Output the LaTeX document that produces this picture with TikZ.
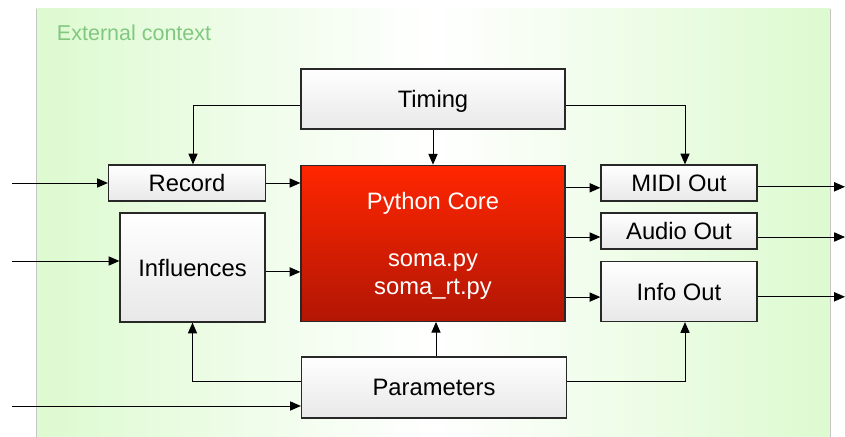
\documentclass[tikz,border=0pt]{standalone}
\usepackage{xcolor}
\usepackage{tikz}
\usepackage{fontspec}
\setmainfont{Liberation Sans}
\definecolor{contextgreen}{RGB}{221, 250, 208}
\definecolor{contexttext}{RGB}{128, 200, 128}
\definecolor{corered}{RGB}{255, 38, 0}
\definecolor{coredark}{RGB}{178, 22, 4}
\definecolor{boxline}{RGB}{40, 40, 40}
\usetikzlibrary{arrows.meta, positioning}

\begin{document}
\begin{tikzpicture}[
        every node/.style={font=\fontsize{16.9}{20}\selectfont},
        block/.style={rectangle, draw=boxline, line width=0.9pt, top color=white, bottom color=gray!18, text centered, text depth=0pt, inner sep=0pt},
        core/.style={block, top color=corered, bottom color=coredark, text=white, align=center},
        flow/.style={-{Triangle[length=2.7mm, width=2.3mm]}, line width=0.7pt},
    ]

        % External context
        \useasboundingbox (0,0) rectangle (21.125,-10.925);
        \shade[left color=contextgreen, right color=contextgreen, middle color=white] (0.9,-0.225) rectangle (20.75,-10.925);
        \draw[gray!45, line width=0.6pt] (0.9,-0.225) -- (0.9,-10.925) (20.75,-0.225) -- (20.75,-10.925);
        \node[anchor=west, text=contexttext, font=\fontsize{15.3}{18}\selectfont] (context) at (1.3,-0.825) {External context};

        % Blocks
        \node[block, minimum width=6.6cm, minimum height=1.5cm] (timing) at (10.825,-2.475) {Timing};
        \node[block, minimum width=3.925cm, minimum height=0.9cm] (record) at (4.675,-4.575) {Record};
        \node[block, minimum width=3.625cm, minimum height=2.725cm] (influences) at (4.8125,-6.6875) {Influences};
        \node[core, minimum width=6.6cm, minimum height=3.9cm] (pycore) at (10.825,-6.0825) {Python Core\\[21pt]soma.py\\soma\_rt.py};
        \node[block, minimum width=3.9cm, minimum height=0.9cm] (midi) at (16.975,-4.575) {MIDI Out};
        \node[block, minimum width=3.9cm, minimum height=0.9cm] (audio) at (16.975,-5.775) {Audio Out};
        \node[block, minimum width=3.9cm, minimum height=1.5cm] (info) at (16.975,-7.2875) {Info Out};
        \node[block, minimum width=6.625cm, minimum height=1.525cm] (params) at (10.85,-9.6875) {Parameters};

        % Free ends
        \coordinate (recIn) at (0.3,-4.575);
        \coordinate (infIn) at (0.3,-6.525);
        \coordinate (parIn) at (0.3,-10.15);
        \coordinate (midiOut) at (21.125,-4.67);
        \coordinate (audioOut) at (21.125,-5.925);
        \coordinate (infoOut) at (21.125,-7.42);

        % Inputs
        \draw[flow] (recIn) -- (record.west);
        \draw[flow] (infIn) -- (infIn -| influences.west);
        \draw[flow] (parIn) -- (parIn -| params.west);

        % Into the core
        \draw[flow] (record.east) -- (record.east -| pycore.west);
        \draw[flow] ([yshift=-0.11cm]influences.east) -- ([yshift=-0.11cm]influences.east -| pycore.west);
        \draw[flow] (timing.south) -- (timing.south |- pycore.north);
        \draw[flow] ([xshift=0.05cm]params.north) -- ([xshift=0.05cm]params.north |- pycore.south);

        % Timing and parameters
        \draw[flow] ([yshift=-0.15cm]timing.west) -| ([xshift=0.15cm]record.north);
        \draw[flow] ([yshift=-0.15cm]timing.east) -| ([xshift=0.15cm]midi.north);
        \draw[flow] ([yshift=0.145cm]params.west) -| (influences.south);
        \draw[flow] ([yshift=0.145cm]params.east) -| ([xshift=0.15cm]info.south);

        % Out of the core
        \draw[flow] ([yshift=-0.12cm]midi.west -| pycore.east) -- ([yshift=-0.12cm]midi.west);
        \draw[flow] ([yshift=-0.15cm]audio.west -| pycore.east) -- ([yshift=-0.15cm]audio.west);
        \draw[flow] ([yshift=-0.14cm]info.west -| pycore.east) -- ([yshift=-0.14cm]info.west);

        % Outputs
        \draw[flow] (midiOut -| midi.east) -- (midiOut);
        \draw[flow] (audioOut -| audio.east) -- (audioOut);
        \draw[flow] (infoOut -| info.east) -- (infoOut);

    \end{tikzpicture}
\end{document}
